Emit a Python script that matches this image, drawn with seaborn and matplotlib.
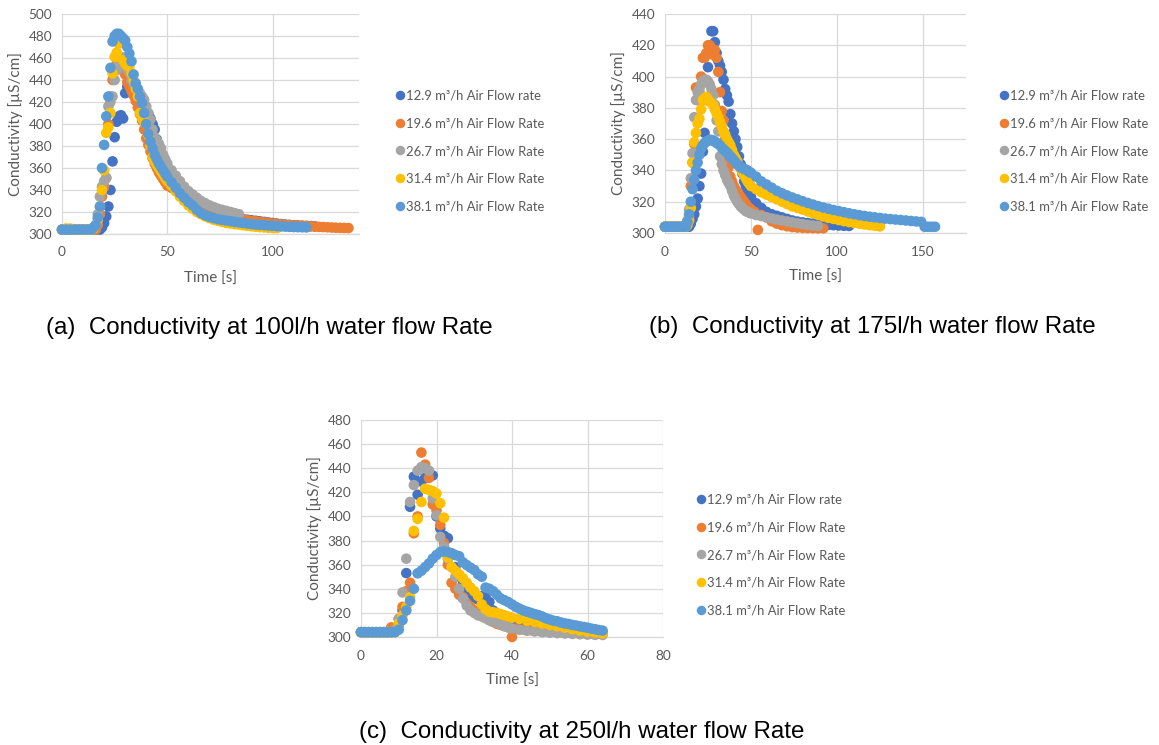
import pandas as pd
import seaborn as sns
import matplotlib.pyplot as plt

SERIES = ["12.9 m³/h Air Flow rate", "19.6 m³/h Air Flow Rate",
          "26.7 m³/h Air Flow Rate", "31.4 m³/h Air Flow Rate",
          "38.1 m³/h Air Flow Rate"]
COLORS = ["#4472C4", "#ED7D31", "#A5A5A5", "#FFC000", "#5B9BD5"]

# ---- (a) 100 l/h water flow ----
A_T_129 = [*range(0, 19, 2), *range(19, 51), *range(52, 121, 2)]
A_V_129 = [304] * 10 + [
    306, 310, 316, 325, 340, 366, 388, 402, 407, 408, 405, 428, 434, 438, 436, 432,
    428, 425, 421, 418, 415, 412, 409, 405, 400, 395, 386, 378, 371, 365, 360, 356,
    350, 345, 340, 335, 331, 328.5, 326, 324.5, 323, 321.5, 320.5, 319, 318, 317, 316,
    315, 314, 313.5, 313, 312.5, 312, 311.5, 311, 310.5, 310, 309.5, 309, 308.6, 308.3,
    308, 307.8, 307.6, 307.4, 307.2, 307]
A_T_196 = [*range(0, 17, 2), *range(17, 51), *range(52, 137, 2)]
A_V_196 = [304] * 9 + [
    308, 318, 334, 343, 351, 400, 425, 440, 449, 455, 458, 456, 452, 445, 438, 434, 430,
    426, 421, 415, 409, 403, 395, 387, 381, 375, 369, 364, 360, 356, 353, 350, 347, 344,
    342, 339, 336, 333, 330, 328, 326, 324, 322.5, 321, 320, 319, 318, 317, 316, 315, 314,
    313.2, 312.5, 312, 311.5, 311, 310.5, 310, 309.5, 309, 308.7, 308.4, 308.1, 307.8,
    307.5, 307.3, 307.1, 306.9, 306.7, 306.5, 306.3, 306.1, 305.9, 305.7, 305.6, 305.5,
    305.4]
A_T_267 = [*range(0, 17, 2), *range(17, 51), *range(52, 85, 2)]
A_V_267 = [304] * 8 + [308] + [
    318, 334, 343, 348, 351, 416, 420, 425, 440, 449, 455, 461, 459, 458, 450, 447, 440,
    437, 434, 431, 428, 425, 422, 416, 410, 404, 395, 388, 385, 382, 378, 372, 368, 364,
    358, 353, 348, 343, 339, 336, 333, 330, 328, 326, 324.5, 323, 322, 321, 320, 319, 318]
A_T_314 = [*range(0, 15, 2), *range(15, 51), *range(52, 103, 2)]
A_V_314 = [304, 305, 305, 304, 304, 304, 304, 304] + [
    305, 308, 313, 325, 340, 358, 392, 397, 410, 446, 461, 465, 473, 475, 458, 455, 453,
    452, 446, 440, 432, 425, 410, 405, 402, 400, 390, 380, 370, 366, 363, 360, 357, 354,
    351, 348,
    344, 339, 334, 330, 326, 323, 320, 318, 316, 314.5, 313, 312, 311, 310, 309.5, 309,
    308.5, 308, 307.5, 307, 306.6, 306.3, 306, 305.7, 305.5, 305.3]
A_T_381 = [*range(0, 15, 2), *range(15, 51), *range(52, 117, 2)]
A_V_381 = [304] * 8 + [
    306, 308, 315, 325, 360, 381, 407, 425, 451, 475, 480, 482, 482, 480, 478, 476, 470,
    464, 457, 445, 437, 432, 425, 419, 410, 400, 391, 384, 378, 372, 368, 364, 361, 358,
    355, 352,
    347, 342, 337, 333, 329, 326, 322, 319, 317, 315.5, 314.5, 313.5, 312.8, 312.2, 311.6,
    311, 310.5, 310, 309.5, 309, 308.6, 308.3, 308, 307.7, 307.4, 307.1, 306.9, 306.7,
    306.5, 306.3, 306.2, 306.1, 306]

# ---- (b) 175 l/h water flow ----
B_T_129 = [*range(0, 15, 2), *range(15, 51), *range(53, 108, 3)]
B_V_129 = [304] * 8 + [
    306, 309, 312, 317, 322, 330, 338, 352, 364, 385, 406, 420, 429, 429, 422, 415, 410,
    407, 403, 398, 392, 388, 384, 376, 370, 365, 360, 355, 349, 344, 338, 333, 330, 327,
    325, 323,
    319, 316, 313.5, 312, 311, 310, 309, 308, 307.3, 306.8, 306.4, 306, 305.7, 305.4,
    305.2, 305, 304.8, 304.6, 304.5]
B_T_196 = [*range(0, 13, 2), *range(13, 51),
           52, 54, 56, 59, 62, 65, 68, 71, 74, 77, 80, 83, 86, 89, 92]
B_V_196 = [304] * 7 + [
    306, 310, 330, 345, 357, 393, 385, 390, 400, 412, 412, 415, 420, 420, 418, 414, 417,
    412, 403, 390, 378, 372, 360, 348, 342, 336, 333, 330, 328, 326, 324.5, 323, 321.5,
    320, 318.5, 317, 316, 315,
    313.5, 302, 311.5, 310, 307.5, 306, 305, 304.3, 303.8, 303.5, 303.3, 303.2, 303.1,
    303, 303]
B_T_267 = [*range(0, 13, 2), *range(13, 51), *range(53, 90, 3)]
B_V_267 = [304] * 7 + [
    308, 315, 335, 351, 374, 385, 390, 392, 395, 397, 398, 398, 397, 395, 392, 388, 382,
    372, 365, 349, 344, 340, 337, 334, 332, 330, 327, 324, 322, 320, 318.5, 317, 316, 315,
    314, 313.5, 313, 312.5,
    311.5, 310.8, 310, 309.3, 308.6, 308, 307.4, 306.8, 306.2, 305.7, 305.2, 304.8, 304.5]
B_T_314 = [*range(0, 13, 2), *range(13, 51), *range(53, 126, 3)]
B_V_314 = [304] * 7 + [
    305, 308, 316, 345, 358, 364, 370, 373, 379, 385, 386, 387, 385, 384, 383, 382, 379,
    376.5, 374, 371, 368, 365, 363, 360, 358, 356, 353, 350, 348, 346, 343, 341, 339, 337,
    335, 333, 331.5, 330,
    328, 326, 324.5, 323, 321.5, 320, 318.5, 317, 316, 315, 313.8, 312.7, 311.6, 310.6,
    309.7, 309, 308.3, 307.6, 307, 306.5, 306, 305.5, 305, 304.6, 304.2]
B_T_381 = [*range(0, 13, 2), *range(13, 51), *range(53, 150, 3), 151, 153, 155, 157]
B_V_381 = [304] * 7 + [
    307, 312, 320, 328, 334, 340, 345, 350, 354, 356, 357.5, 358.4, 359, 359.5, 359.5,
    359, 358.5, 357.5, 357, 356, 354.5, 353.5, 352.5, 351.5, 350.3, 349, 347.8, 346.5,
    345.2, 344, 343, 342, 341.5, 341, 340.5, 340, 339, 338.5,
    336, 333, 331, 329, 327, 325.4, 324, 322.7, 321.5, 320.3, 319.2, 318.2, 317.2, 316.3,
    315.5, 314.7, 314, 313.3, 312.6, 312, 311.4, 310.9, 310.4, 310, 309.6, 309.2, 308.9,
    308.6, 308.3, 308, 307.7, 307.4, 307.1,
    304, 304, 304, 304]

# ---- (c) 250 l/h water flow ----
C_T_129 = [*range(0, 41), *range(42, 65, 2)]
C_V_129 = [304] * 9 + [
    305, 310, 322, 353, 408, 433, 418, 429, 432, 435, 434, 400, 390, 384, 382, 368, 358,
    350, 344, 340, 336, 333, 331, 334, 333, 329, 322, 319, 317, 315, 313.5, 312,
    310.5, 309, 308, 307, 306.2, 305.6, 305, 304.6, 304.2, 303.9, 303.6, 303.3]
C_T_196 = [*range(0, 41), *range(41, 64, 2)]
C_V_196 = [304] * 8 + [
    308, 306, 315, 325, 338, 345, 386, 400, 453, 443, 432, 410, 405, 393, 378, 360, 345,
    340, 335, 333, 328, 325, 322, 320, 318, 316, 314, 312.5, 311, 310, 309, 308,
    300,
    307, 306.3, 305.7, 305.2, 304.8, 304.4, 304, 303.7, 303.4, 303.2, 303, 302.8]
C_T_267 = [*range(0, 41), *range(42, 65, 2)]
C_V_267 = [304] * 9 + [
    306, 315, 337, 365, 412, 426, 438, 441, 440, 438, 415, 401, 383, 375, 365, 358, 350,
    340, 332, 326, 322, 320, 318, 317, 315.5, 314, 313, 312, 310.5, 309, 308, 307,
    306, 305.2, 304.6, 304, 303.6, 303.2, 302.9, 302.6, 302.3, 302, 301.8, 301.7]
C_T_314 = [*range(0, 41), *range(42, 65, 2)]
C_V_314 = [304] * 10 + [
    311, 318, 325, 333, 388, 398, 412, 423, 422, 421, 419, 411, 399, 366, 358, 355, 352,
    348.7, 345, 341, 338, 334, 327, 323, 321, 320.5, 320, 319, 318, 317, 316,
    315, 313.5, 312.5, 311, 310, 309, 307.7, 306.5, 305.3, 304.4, 303.7, 303]
C_T_381 = list(range(0, 65))
C_V_381 = [304] * 10 + [
    306, 314, 322, 330, 340, 352.8, 355, 358, 361, 365, 368, 370.5, 371, 370.5, 369.5,
    368, 367, 362, 359.7, 357.5, 355.6, 352, 350, 341, 340, 338, 335, 332, 330.5, 329,
    327, 325, 323.5, 322, 321, 320, 319, 318.2, 317, 315.5, 314.5, 313.5, 313, 312,
    311.3, 310.8, 310, 309.5, 308.8, 308.3, 307.7, 307, 306.5, 305.8, 305.3]

TEXT_GREY = "#595959"
GRID_GREY = "#D9D9D9"


def build_frame(times, values):
    parts = []
    for name, t, v in zip(SERIES, times, values):
        assert len(t) == len(v), (name, len(t), len(v))
        parts.append(pd.DataFrame({"time": t, "cond": v, "series": name}))
    return pd.concat(parts, ignore_index=True)


def draw_panel(fig, rect, times, values, xlim, xticks, ylim, yticks,
               legend_xy, caption, caption_xy):
    ax = fig.add_axes(rect)
    df = build_frame(times, values)
    sns.scatterplot(data=df, x="time", y="cond", hue="series", hue_order=SERIES,
                    palette=COLORS, s=58, linewidth=0, alpha=1, ax=ax,
                    clip_on=False, zorder=3)
    ax.set_xlim(*xlim)
    ax.set_ylim(*ylim)
    ax.set_xticks(xticks)
    ax.set_yticks(yticks)
    ax.grid(True, color=GRID_GREY, linewidth=0.9, zorder=0)
    ax.set_axisbelow(True)
    for side in ["top", "right", "left"]:
        ax.spines[side].set_visible(False)
    ax.spines["bottom"].set_color(GRID_GREY)
    ax.spines["bottom"].set_linewidth(0.9)
    ax.tick_params(length=0, pad=7, labelsize=9.8, colors=TEXT_GREY)
    ax.tick_params(axis="x", pad=9)
    ax.set_xlabel("Time [s]", fontsize=11, color=TEXT_GREY)
    ax.set_ylabel("Conductivity [µS/cm]", fontsize=11, color=TEXT_GREY)
    ax.xaxis.set_label_coords(0.5, -0.17)
    ax.yaxis.set_label_coords(-0.13, 0.5)

    handles, labels = ax.get_legend_handles_labels()
    ax.legend(handles, labels, loc="center left", bbox_to_anchor=legend_xy,
              bbox_transform=fig.transFigure, frameon=False, fontsize=9.4,
              labelcolor=TEXT_GREY, handlelength=0.6, handletextpad=0.15,
              labelspacing=1.2, borderpad=0, markerscale=0.9)

    fig.text(caption_xy[0], caption_xy[1], caption, ha="center", va="center",
             fontsize=17.4, family=["Liberation Sans", "DejaVu Sans"], color="black")
    return ax


sns.set_style("white")
plt.rcParams["font.family"] = ["Lato", "DejaVu Sans"]

fig = plt.figure(figsize=(11.59, 7.45), dpi=100)

W, H = 1159, 745
draw_panel(fig, [62 / W, 1 - 234 / H, 297 / W, 220 / H],
           [A_T_129, A_T_196, A_T_267, A_T_314, A_T_381],
           [A_V_129, A_V_196, A_V_267, A_V_314, A_V_381],
           (0, 141), [0, 50, 100], (300, 500), range(300, 501, 20),
           (390 / W, 1 - 151 / H),
           "(a)  Conductivity at 100l/h water flow Rate", (269 / W, 1 - 328 / H))

draw_panel(fig, [665 / W, 1 - 233 / H, 301 / W, 219 / H],
           [B_T_129, B_T_196, B_T_267, B_T_314, B_T_381],
           [B_V_129, B_V_196, B_V_267, B_V_314, B_V_381],
           (0, 175), [0, 50, 100, 150], (300, 440), range(300, 441, 20),
           (994 / W, 1 - 151 / H),
           "(b)  Conductivity at 175l/h water flow Rate", (872 / W, 1 - 327 / H))

draw_panel(fig, [361 / W, 1 - 637 / H, 302 / W, 217 / H],
           [C_T_129, C_T_196, C_T_267, C_T_314, C_T_381],
           [C_V_129, C_V_196, C_V_267, C_V_314, C_V_381],
           (0, 80), [0, 20, 40, 60, 80], (300, 480), range(300, 481, 20),
           (691 / W, 1 - 555 / H),
           "(c)  Conductivity at 250l/h water flow Rate", (582 / W, 1 - 732 / H))

fig.savefig("out.png", dpi=100)
